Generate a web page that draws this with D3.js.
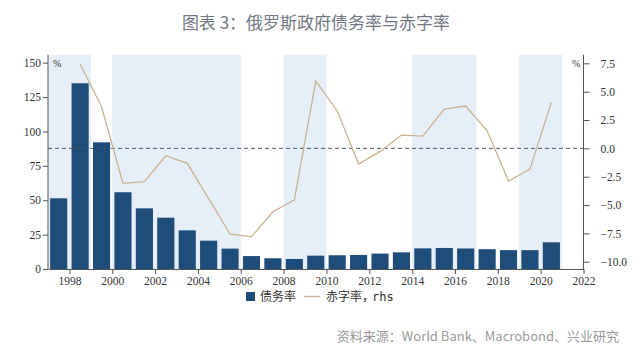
<!DOCTYPE html>
<html>
<head>
<meta charset="utf-8">
<script src="https://cdn.jsdelivr.net/npm/d3@7"></script>
<style>
  body { margin: 0; background: #fff; }
  svg { display: block; }
  .ax text { font-family: "Liberation Serif", "DejaVu Serif", serif; font-size: 11.5px; }
</style>
</head>
<body>
<div id="chart"></div>
<script>
const years = d3.range(1997, 2021);
const debtRate = [51.4, 135, 92.1, 55.8, 44.1, 37.3, 28.1, 20.6, 14.8, 9.4, 7.8, 7.3,
  9.7, 10, 10.2, 11.2, 12.1, 15, 15.3, 14.9, 14.4, 13.7, 13.7, 19.4];
const deficitYears = d3.range(1998, 2021);
const deficitRate = [7.43, 3.67, -3.09, -2.94, -0.65, -1.32, -4.44, -7.56, -7.79, -5.59,
  -4.56, 5.93, 3.32, -1.38, -0.29, 1.17, 1.08, 3.47, 3.73, 1.55, -2.88, -1.83, 4.06];
const shadedPeriods = [[1997, 1999], [2000, 2006], [2008, 2010], [2014, 2017], [2019, 2021]];
const leftTicks = [0, 25, 50, 75, 100, 125, 150];
const rightTicks = [-10, -7.5, -5, -2.5, 0, 2.5, 5, 7.5];
const xTicks = d3.range(1998, 2023, 2);

const width = 640;
const height = 363;
const plot = { left: 48, right: 583.5, top: 54.7, bottom: 269 };

const svg = d3.select("#chart").append("svg")
  .attr("width", width)
  .attr("height", height);

const x = d3.scaleLinear([1997, 2022], [plot.left, plot.right]);
const yL = d3.scaleLinear([0, 155.8], [plot.bottom, plot.top]);
const yR = d3.scaleLinear([-10.64, 8.26], [plot.bottom, plot.top]);

// title
svg.append("text")
  .attr("x", 316).attr("y", 29)
  .attr("text-anchor", "middle")
  .style("font-family", "'Noto Sans CJK SC', sans-serif")
  .style("font-size", "17px")
  .style("font-weight", 400)
  .attr("fill", "#727883")
  .text("图表 3：俄罗斯政府债务率与赤字率");

// shaded bands
svg.append("g").selectAll("rect")
  .data(shadedPeriods)
  .join("rect")
  .attr("x", d => x(d[0]))
  .attr("width", d => x(d[1]) - x(d[0]))
  .attr("y", plot.top)
  .attr("height", plot.bottom - plot.top)
  .attr("fill", "#e6eef8");

// bars
const barW = (x(1) - x(0)) * 0.8;
svg.append("g").selectAll("rect")
  .data(years)
  .join("rect")
  .attr("x", (d) => x(d + 0.5) - barW / 2)
  .attr("width", barW)
  .attr("y", (d, i) => yL(debtRate[i]))
  .attr("height", (d, i) => yL(0) - yL(debtRate[i]))
  .attr("fill", "#1e4d7a");

// zero line (rhs)
svg.append("line")
  .attr("x1", plot.left).attr("x2", plot.right)
  .attr("y1", yR(0)).attr("y2", yR(0))
  .attr("stroke", "#4a5566")
  .attr("stroke-width", 1)
  .attr("stroke-dasharray", "4,3");

// deficit line
const line = d3.line()
  .x((d, i) => x(deficitYears[i] + 0.5))
  .y(d => yR(d));
svg.append("path")
  .datum(deficitRate)
  .attr("d", line)
  .attr("fill", "none")
  .attr("stroke", "#c9b291")
  .attr("stroke-width", 1.3);

const leftAxis = svg.append("g")
  .attr("class", "ax")
  .attr("transform", `translate(${plot.left},0)`)
  .call(d3.axisLeft(yL).tickValues(leftTicks).tickSize(5).tickSizeOuter(0).tickPadding(2));
const rightAxis = svg.append("g")
  .attr("class", "ax")
  .attr("transform", `translate(${plot.right},0)`)
  .call(d3.axisRight(yR).tickValues(rightTicks).tickSize(6).tickSizeOuter(0).tickPadding(11)
    .tickFormat(d3.format(".1f")));
const bottomAxis = svg.append("g")
  .attr("class", "ax")
  .attr("transform", `translate(0,${plot.bottom})`)
  .call(d3.axisBottom(x).tickValues(xTicks).tickSize(5).tickSizeOuter(0).tickPadding(3)
    .tickFormat(d3.format("d")));

[leftAxis, rightAxis, bottomAxis].forEach(g => {
  g.attr("font-family", null).attr("font-size", null);
  g.selectAll(".domain").attr("stroke", "#555");
  g.selectAll(".tick line").attr("stroke", "#555");
  g.selectAll("text").attr("fill", "#333");
});
leftAxis.select(".domain").attr("d", `M0,${plot.top}V${plot.bottom}`);
rightAxis.select(".domain").attr("d", `M0,${plot.top}V${plot.bottom}`);

// % unit labels
const unitFont = "'Liberation Serif', 'DejaVu Serif', serif";
svg.append("text").attr("x", 53).attr("y", 67)
  .style("font-family", unitFont).style("font-size", "10px").attr("fill", "#333").text("%");
svg.append("text").attr("x", 572).attr("y", 67)
  .style("font-family", unitFont).style("font-size", "10px").attr("fill", "#333").text("%");

// legend
const legend = svg.append("g")
  .style("font-family", "'Noto Sans CJK SC', sans-serif")
  .style("font-size", "12px")
  .attr("fill", "#333");
legend.append("rect")
  .attr("x", 246).attr("y", 292).attr("width", 9).attr("height", 9)
  .attr("fill", "#1e4d7a");
legend.append("text").attr("x", 260).attr("y", 301).text("债务率");
legend.append("line")
  .attr("x1", 304).attr("x2", 320).attr("y1", 296.5).attr("y2", 296.5)
  .attr("stroke", "#c9b291").attr("stroke-width", 1.3);
legend.append("text").attr("x", 326).attr("y", 301).text("赤字率，");
legend.append("text").attr("x", 372).attr("y", 301)
  .style("font-family", "'DejaVu Sans Mono', monospace").text("rhs");

// source
svg.append("text")
  .attr("x", 619).attr("y", 341)
  .attr("text-anchor", "end")
  .style("font-family", "'Noto Sans CJK SC', sans-serif")
  .style("font-size", "13px")
  .attr("fill", "#9a9a9a")
  .text("资料来源：World Bank、Macrobond、兴业研究");
</script>
</body>
</html>
